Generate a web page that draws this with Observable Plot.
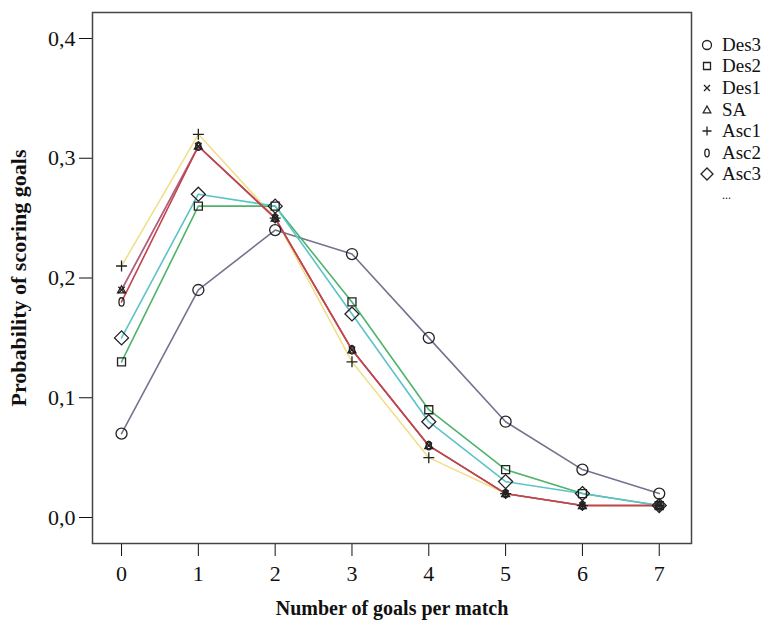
<!DOCTYPE html>
<html>
<head>
<meta charset="utf-8">
<script src="https://cdn.jsdelivr.net/npm/d3@7"></script>
<script src="https://cdn.jsdelivr.net/npm/@observablehq/plot@0.6"></script>
<style>
  html, body { margin: 0; padding: 0; background: #fff; }
  #wrap { position: relative; width: 777px; height: 623px; }
  #chart svg { font-family: "Liberation Serif", "Times New Roman", serif; }
  #chart g[aria-label="x-axis label"] text { font-weight: bold; font-size: 20px; fill: #111; }
  #chart g[aria-label="y-axis label"] text { font-weight: bold; font-size: 22px; fill: #111; }
  #legend { position: absolute; left: 698px; top: 34px; font-family: "Liberation Serif", "Times New Roman", serif; font-size: 19px; color: #111; }
  #legend .row { display: flex; align-items: center; height: 21.6px; }
  #legend svg { width: 18px; height: 18px; margin-right: 6px; }
</style>
</head>
<body>
<div id="wrap">
  <div id="chart"></div>
  <div id="legend"></div>
</div>
<script>
// ---- data ----
const goals = [0, 1, 2, 3, 4, 5, 6, 7];
const series = ["Des3", "Des2", "Des1", "SA", "Asc1", "Asc2", "Asc3"];
const des3 = [0.07, 0.19, 0.24, 0.22, 0.15, 0.08, 0.04, 0.02];
const des2 = [0.13, 0.26, 0.26, 0.18, 0.09, 0.04, 0.02, 0.01];
const des1 = [0.19, 0.31, 0.25, 0.14, 0.06, 0.02, 0.01, 0.01];
const sa   = [0.19, 0.31, 0.25, 0.14, 0.06, 0.02, 0.01, 0.01];
const asc1 = [0.21, 0.32, 0.25, 0.13, 0.05, 0.02, 0.01, 0.01];
const asc2 = [0.18, 0.31, 0.25, 0.14, 0.06, 0.02, 0.01, 0.01];
const asc3 = [0.15, 0.27, 0.26, 0.17, 0.08, 0.03, 0.02, 0.01];
const yTicks = [0, 0.1, 0.2, 0.3, 0.4];

const seriesValues = [des3, des2, des1, sa, asc1, asc2, asc3];
const lineColors = ["#73738f", "#4fb36b", "#b0608c", "#e59a6a", "#f0e08a", "#c0444c", "#5cc3c8"];
const drawOrder = ["Asc1", "SA", "Des3", "Des2", "Asc3", "Des1", "Asc2"];

const data = series.flatMap((s, i) => seriesValues[i].map((v, g) => ({series: s, goals: goals[g], p: v})));
const lineData = drawOrder.flatMap(s => data.filter(d => d.series === s));

// ---- custom fixed-size symbols ----
function mk(drawFn) { return {draw: (ctx) => drawFn(ctx)}; }
function circle(r) { return mk(c => { c.moveTo(r, 0); c.arc(0, 0, r, 0, 2 * Math.PI); }); }
function square(h) { return mk(c => { c.rect(-h, -h, 2 * h, 2 * h); }); }
function times(h) { return mk(c => { c.moveTo(-h, -h); c.lineTo(h, h); c.moveTo(h, -h); c.lineTo(-h, h); }); }
function plus(h) { return mk(c => { c.moveTo(-h, 0); c.lineTo(h, 0); c.moveTo(0, -h); c.lineTo(0, h); }); }
function triangle(h) { return mk(c => { c.moveTo(0, -h); c.lineTo(h * 0.95, h * 0.7); c.lineTo(-h * 0.95, h * 0.7); c.closePath(); }); }
function diamond(h) { return mk(c => { c.moveTo(0, -h); c.lineTo(h, 0); c.lineTo(0, h); c.lineTo(-h, 0); c.closePath(); }); }
function ellipse(rx, ry) {
  return mk(c => {
    const k = 0.5523;
    c.moveTo(0, -ry);
    c.bezierCurveTo(rx * k, -ry, rx, -ry * k, rx, 0);
    c.bezierCurveTo(rx, ry * k, rx * k, ry, 0, ry);
    c.bezierCurveTo(-rx * k, ry, -rx, ry * k, -rx, 0);
    c.bezierCurveTo(-rx, -ry * k, -rx * k, -ry, 0, -ry);
    c.closePath();
  });
}
const plotSymbols = [circle(5.5), square(4), times(3.2), triangle(4.2), plus(5.5), ellipse(2.6, 4.2), diamond(7)];
const legendSymbols = [circle(4.5), square(3.5), times(3), triangle(4), plus(4.5), ellipse(2.2, 3.8), diamond(6)];

const fmt = d => d.toFixed(1).replace(".", ",");

const chart = Plot.plot({
  width: 777,
  height: 623,
  marginLeft: 92,
  marginRight: 86,
  marginTop: 12,
  marginBottom: 80,
  style: {fontFamily: "Liberation Serif, Times New Roman, serif", fontSize: "22px", color: "#111"},
  x: {domain: [-0.378, 7.42], ticks: goals, tickSize: 13, tickPadding: 9, label: "Number of goals per match", labelAnchor: "center", labelArrow: "none", labelOffset: 71},
  y: {domain: [-0.0217, 0.4217], ticks: yTicks, tickFormat: fmt, tickSize: 13, tickPadding: 4, label: "Probability of scoring goals", labelAnchor: "center", labelArrow: "none", labelOffset: 82},
  color: {domain: series, range: lineColors},
  symbol: {domain: series, range: plotSymbols},
  marks: [
    Plot.frame({stroke: "#444", strokeWidth: 1.5}),
    Plot.line(lineData, {x: "goals", y: "p", z: "series", stroke: "series", strokeWidth: 1.6}),
    Plot.dot(data, {x: "goals", y: "p", symbol: "series", stroke: "#222", strokeWidth: 1.3, fill: "none"})
  ]
});
document.getElementById("chart").appendChild(chart);

// ---- legend ----
const legend = d3.select("#legend");
series.forEach((s, i) => {
  const row = legend.append("div").attr("class", "row");
  const svg = row.append("svg").attr("viewBox", "-9 -9 18 18");
  svg.append("path").attr("d", d3.symbol(legendSymbols[i])()).attr("fill", "none").attr("stroke", "#222").attr("stroke-width", 1.3);
  row.append("span").text(s);
});
const more = legend.append("div").attr("class", "row");
more.append("svg").attr("viewBox", "-9 -9 18 18");
more.append("span").style("font-size", "12px").text("...");
</script>
</body>
</html>
